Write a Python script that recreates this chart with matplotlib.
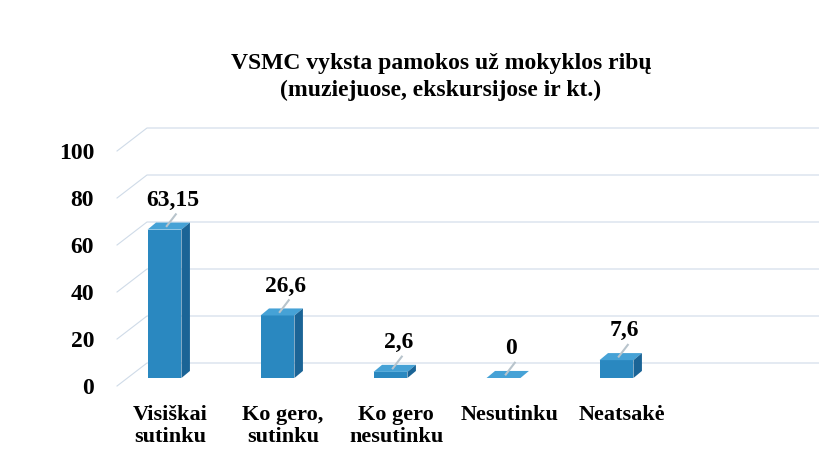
#!/usr/bin/env python3

import numpy as np
import matplotlib.pyplot as plt
from matplotlib.patches import Polygon

###############################################################################
# Data
###############################################################################

categories = ["Visiškai\nsutinku", "Ko gero,\nsutinku", "Ko gero\nnesutinku",
              "Nesutinku", "Neatsakė"]
values = [63.15, 26.6, 2.6, 0, 7.6]
value_labels = ["63,15", "26,6", "2,6", "0", "7,6"]
yticks = [0, 20, 40, 60, 80, 100]

title = "VSMC vyksta pamokos už mokyklos ribų\n(muziejuose, ekskursijose ir kt.)"

###############################################################################
# Figure
###############################################################################

W, H = 819, 471
fig = plt.figure(figsize=(W / 100, H / 100), dpi=100)

# axes placed in pixel terms
left_px, right_px, top_px, bottom_px = 108, 819, 115, 395
ax = fig.add_axes([left_px / W, 1 - bottom_px / H,
                   (right_px - left_px) / W, (bottom_px - top_px) / H])

px_per_unit = 2.35
zero_px = 386
ymin = -(bottom_px - zero_px) / px_per_unit
ymax = (zero_px - top_px) / px_per_unit
xmin = -0.5
xmax = xmin + (right_px - left_px) / 113.0
ax.set_xlim(xmin, xmax)
ax.set_ylim(ymin, ymax)

serif = "Liberation Serif"

# pseudo 3D gridlines: short diagonal on the side wall then across the back
gx0, gx1 = -0.42, -0.155
gdy = 23 / px_per_unit
for v in yticks:
    ax.plot([gx0, gx1, xmax], [v, v + gdy, v + gdy],
            color="#cfdbe8", linewidth=0.8, zorder=1)

# 3D-looking bars, set halfway into the depth
bw = 0.30
base = 8 / px_per_unit
ddx, ddy = 0.075, 3.0
front_c = "#2a88c0"
top_c = "#46a2d6"
side_c = "#1b6496"

x = np.arange(len(categories))
for xi, v in zip(x, values):
    x0 = xi - bw / 2
    x1 = xi + bw / 2
    b = base
    h = base + max(v, 0.0)
    ax.add_patch(Polygon([(x0, b), (x1, b), (x1, h), (x0, h)],
                         closed=True, facecolor=front_c, edgecolor="none",
                         zorder=3))
    ax.add_patch(Polygon([(x0, h), (x1, h), (x1 + ddx, h + ddy),
                          (x0 + ddx, h + ddy)],
                         closed=True, facecolor=top_c, edgecolor="none",
                         zorder=3))
    ax.add_patch(Polygon([(x1, b), (x1 + ddx, b + ddy), (x1 + ddx, h + ddy),
                          (x1, h)],
                         closed=True, facecolor=side_c, edgecolor="none",
                         zorder=3))

# value labels with small leader lines
for xi, v, lab in zip(x, values, value_labels):
    top_y = base + v + ddy / 2
    ax.plot([xi + 0.02, xi + 0.10], [top_y, top_y + 5],
            color="#b8c4cc", linewidth=1.5, zorder=4)
    ax.text(xi + 0.07, top_y + 6.5, lab, ha="center", va="bottom",
            fontsize=17, fontweight="bold", family=serif, zorder=5)

###############################################################################
# Formatting
###############################################################################

ax.set_yticks(yticks)
ax.set_yticklabels([str(t) for t in yticks], fontsize=17,
                   fontweight="bold", family=serif)
ax.set_xticks(x + 0.05)
ax.set_xticklabels(categories, fontsize=16, fontweight="bold",
                   family=serif, linespacing=1.15)
ax.tick_params(axis="y", length=0, pad=10)
ax.tick_params(axis="x", length=0, pad=7)

for s in ax.spines.values():
    s.set_visible(False)

fig.text(441 / W, 1 - 77 / H, title, ha="center", va="center",
         fontsize=17, fontweight="bold", family=serif, linespacing=1.3)

fig.savefig("out.png", dpi=100)
